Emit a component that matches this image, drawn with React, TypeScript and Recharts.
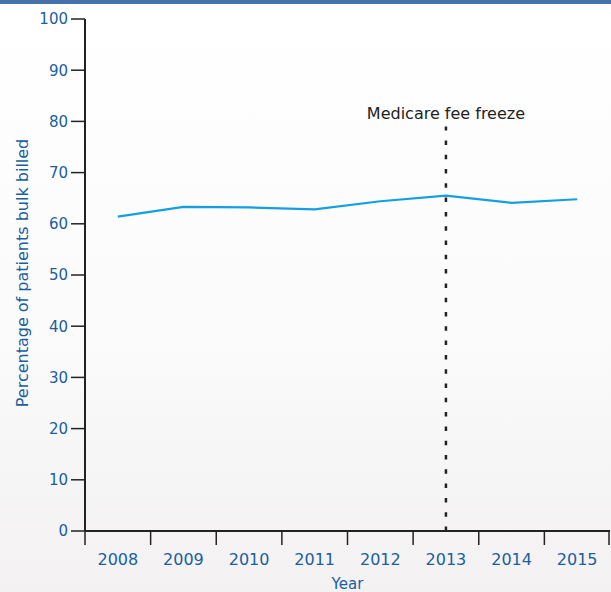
import { ComposedChart, Line, XAxis, YAxis, ReferenceLine } from "recharts"

const years = ["2008", "2009", "2010", "2011", "2012", "2013", "2014", "2015"]
const bulkBilled = [61.4, 63.3, 63.2, 62.8, 64.4, 65.5, 64.1, 64.8]
const yTicks = [0, 10, 20, 30, 40, 50, 60, 70, 80, 90, 100]
const freezeYear = "2013"
const freezeTop = 79
const freezeLabel = "Medicare fee freeze"

const data = years.map((year, i) => ({ year, value: bulkBilled[i] }))

const BLUE_TEXT = "#1a5f9e"
const AXIS = "#222"
const FONT = "'DejaVu Sans', Verdana, sans-serif"
const X_TICK_SIZE = 14
const X_TICK_MARGIN = 9

function YLabel({ viewBox }: any) {
  const cx = viewBox.x + 22
  const cy = viewBox.y + viewBox.height / 2 - 2
  return (
    <text
      x={cx}
      y={cy}
      transform={`rotate(-90, ${cx}, ${cy})`}
      textAnchor="middle"
      dominantBaseline="central"
      fill={BLUE_TEXT}
      fontSize={16}
      fontFamily={FONT}
    >
      Percentage of patients bulk billed
    </text>
  )
}

// year label centred in its band, with tick marks at the band edges
function YearTick(props: any) {
  const { x, y, payload, index, visibleTicksCount } = props
  const half = payload.offset ?? 0
  const top = y - X_TICK_SIZE - X_TICK_MARGIN
  const bottom = top + X_TICK_SIZE
  const isLast = index === visibleTicksCount - 1
  return (
    <g>
      <line x1={x - half} x2={x - half} y1={top} y2={bottom} stroke={AXIS} strokeWidth={1.5} />
      {isLast && <line x1={x + half - 1} x2={x + half - 1} y1={top} y2={bottom} stroke={AXIS} strokeWidth={1.5} />}
      <text x={x} y={y} dy="0.71em" textAnchor="middle" fill={BLUE_TEXT} fontSize={16} fontFamily={FONT}>
        {payload.value}
      </text>
    </g>
  )
}

export default function App() {
  return (
    <div
      style={{
        position: "absolute",
        left: 0,
        top: 0,
        width: 611,
        height: 592,
        background: "linear-gradient(180deg, #ffffff 0%, #fbfbfb 55%, #f3f1f1 100%)",
        fontFamily: FONT,
      }}
    >
      <div style={{ position: "absolute", left: 0, top: 0, width: 611, height: 4, background: "#4573aa" }} />
      <ComposedChart
        width={611}
        height={592}
        data={data}
        margin={{ top: 19, right: 1, bottom: 0, left: 0 }}
      >
        <XAxis
          dataKey="year"
          type="category"
          scale="band"
          height={61}
          interval={0}
          axisLine={{ stroke: AXIS, strokeWidth: 2 }}
          tickLine={false}
          tickSize={X_TICK_SIZE}
          tickMargin={X_TICK_MARGIN}
          tick={<YearTick />}
          label={{ value: "Year", position: "insideBottom", offset: 3, fill: BLUE_TEXT, fontSize: 15, fontFamily: FONT }}
        />
        <YAxis
          type="number"
          domain={[0, 100]}
          ticks={yTicks}
          width={85}
          tickSize={14}
          tickMargin={3}
          interval={0}
          axisLine={{ stroke: AXIS, strokeWidth: 2 }}
          tickLine={{ stroke: AXIS, strokeWidth: 1.5 }}
          tick={{ fill: BLUE_TEXT, fontSize: 15, fontFamily: FONT }}
          label={<YLabel />}
        />
        <ReferenceLine
          segment={[
            { x: freezeYear, y: 0 },
            { x: freezeYear, y: freezeTop },
          ]}
          stroke={AXIS}
          strokeWidth={2.5}
          strokeDasharray="4.5 9.8"
          label={{ value: freezeLabel, position: "top", offset: 8, fill: "#222", fontSize: 16, fontFamily: FONT }}
        />
        <Line
          type="linear"
          dataKey="value"
          stroke="#14a0e0"
          strokeWidth={2.2}
          dot={false}
          activeDot={false}
          isAnimationActive={false}
        />
      </ComposedChart>
    </div>
  )
}
